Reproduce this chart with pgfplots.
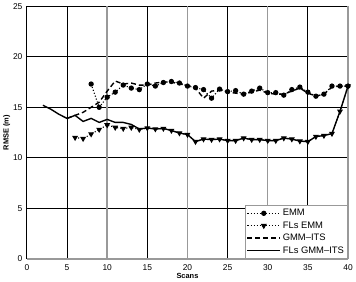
\documentclass[border=0pt]{standalone}
\usepackage{fontspec}
\setmainfont{Liberation Sans}
\usepackage{pgfplots}
\pgfplotsset{compat=1.18}
\begin{document}
\begin{tikzpicture}
\begin{axis}[
  scale only axis, width=323bp, height=254bp,
  xmin=0, xmax=40, ymin=0, ymax=25,
  xtick={0,5,15,25,35}, ytick={5,10,15,20,25},
  extra x ticks={10,20,30,40},
  extra x tick style={grid style={gray!80, line width=1.5pt}},
  extra y ticks={0},
  extra y tick style={grid style={gray!80, line width=1.5pt}},
  grid=major, grid style={black, line width=0.9pt},
  axis line style={draw=none},
  major tick length=0pt,
  /pgf/number format/assume math mode=true,
  tick label style={font=\fontsize{8.5}{10}\selectfont},
  xticklabel style={yshift=-2pt},
  yticklabel style={xshift=-1pt},
  xlabel={\textbf{Scans}}, ylabel={\textbf{RMSE (m)}},
  label style={font=\fontsize{7.5}{9}\selectfont},
  xlabel style={yshift=4pt},
  ylabel style={yshift=-4pt},
  legend style={at={(1,0)}, anchor=south east, draw=gray!80, line width=1.2pt,
    font=\fontsize{9.5}{11}\selectfont, inner sep=1.5pt, row sep=0.5pt},
  legend cell align=left,
  legend image code/.code={\draw[mark repeat=2,mark phase=2] plot coordinates {(0cm,0cm) (0.58cm,0cm) (1.16cm,0cm)};},
]
\addplot[black, line width=1.1pt, dotted, mark=*, mark size=2.1pt, mark options={solid}] coordinates {
(8,17.3) (9,15.0) (10,16.0) (11,16.5) (12,17.2) (13,16.9) (14,16.75) (15,17.3) (16,17.1) (17,17.45) (18,17.55) (19,17.4) (20,17.1) (21,16.95) (22,16.75) (23,15.9) (24,16.8) (25,16.55) (26,16.65) (27,16.3) (28,16.6) (29,16.9) (30,16.45) (31,16.45) (32,16.2) (33,16.75) (34,17.0) (35,16.5) (36,16.1) (37,16.3) (38,17.1) (39,17.1) (40,17.1)};
\addlegendentry{EMM}
\addplot[black, line width=1.1pt, dotted, mark=triangle*, mark size=2.4pt, mark options={solid, rotate=180}] coordinates {
(6,12.0) (7,11.9) (8,12.35) (9,12.8) (10,13.25) (11,13.0) (12,12.9) (13,13.0) (14,12.8) (15,12.95) (16,12.85) (17,12.9) (18,12.7) (19,12.45) (20,12.3) (21,11.6) (22,11.85) (23,11.8) (24,11.85) (25,11.7) (26,11.7) (27,11.95) (28,11.8) (29,11.8) (30,11.7) (31,11.7) (32,11.95) (33,11.85) (34,11.65) (35,11.6) (36,12.1) (37,12.2) (38,12.4) (39,14.6) (40,17.1)};
\addlegendentry{FLs EMM}
\addplot[black, line width=1.4pt, dashed, dash pattern=on 5pt off 3pt] coordinates {
(5,13.9) (6,14.2) (7,14.5) (8,15.0) (9,15.5) (10,16.6) (11,17.6) (12,17.3) (13,17.4) (14,17.2) (15,17.2) (16,17.4) (17,17.5) (18,17.5) (19,17.3) (20,17.2) (21,16.9) (22,15.9) (23,16.6) (24,16.7) (25,16.5) (26,16.4) (27,16.3) (28,16.5) (29,16.7) (30,16.4) (31,16.3) (32,16.3) (33,16.6) (34,16.9) (35,16.4) (36,16.1) (37,16.3) (38,17.0) (39,17.1) (40,17.1)};
\addlegendentry{GMM--ITS}
\addplot[black, line width=1.4pt] coordinates {
(2,15.2) (3,14.8) (4,14.3) (5,13.9) (6,14.2) (7,13.6) (8,13.9) (9,13.5) (10,13.8) (11,13.5) (12,13.5) (13,13.3) (14,12.85) (15,12.95) (16,12.85) (17,12.9) (18,12.7) (19,12.45) (20,12.3) (21,11.6) (22,11.85) (23,11.8) (24,11.85) (25,11.7) (26,11.7) (27,11.95) (28,11.8) (29,11.8) (30,11.7) (31,11.7) (32,11.95) (33,11.85) (34,11.65) (35,11.6) (36,12.1) (37,12.2) (38,12.4) (39,14.6) (40,17.1)};
\addlegendentry{FLs GMM--ITS}
\end{axis}
\end{tikzpicture}
\end{document}
